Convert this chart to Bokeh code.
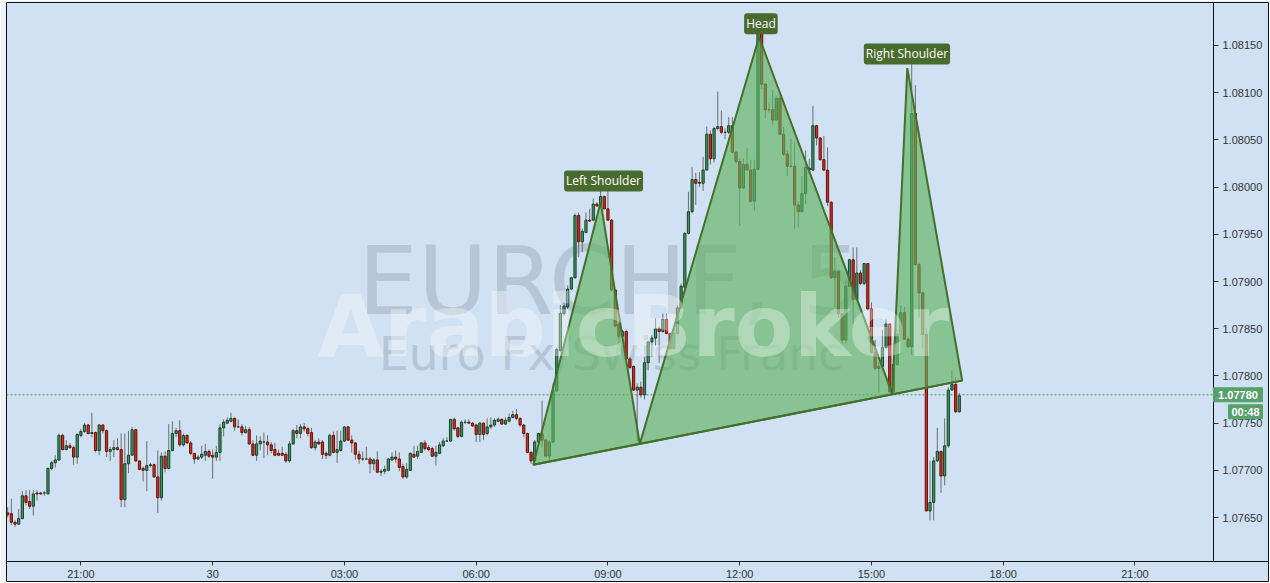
import numpy as np
from bokeh.plotting import figure
from bokeh.models import FixedTicker, Label, Range1d, PrintfTickFormatter, ColumnDataSource
from bokeh.embed import file_html
from bokeh.resources import INLINE
from bokeh.core.properties import value

# ---------------- data (EURCHF, M5) ----------------
start_hour = 19 + 20 / 60.0   # first candle 19:20 on the 29th
bar_minutes = 5

opens = [1.07655,1.07654,1.07645,1.07643,1.07649,1.07673,1.07667,1.07662,1.07676,1.07676,
1.07676,1.07675,1.07702,1.07708,1.07711,1.07737,1.07722,1.07726,1.07724,1.07714,
1.07737,1.07741,1.07748,1.07739,1.07740,1.07721,1.07748,1.07742,1.07720,1.07722,
1.07724,1.07722,1.07669,1.07707,1.07716,1.07743,1.07710,1.07702,1.07700,1.07705,
1.07706,1.07693,1.07671,1.07715,1.07702,1.07721,1.07739,1.07742,1.07727,1.07737,
1.07729,1.07718,1.07712,1.07714,1.07716,1.07720,1.07716,1.07714,1.07719,1.07745,
1.07750,1.07752,1.07755,1.07746,1.07746,1.07740,1.07743,1.07728,1.07716,1.07728,
1.07730,1.07730,1.07727,1.07722,1.07718,1.07718,1.07717,1.07710,1.07728,1.07742,
1.07739,1.07746,1.07744,1.07740,1.07724,1.07730,1.07730,1.07718,1.07716,1.07737,
1.07719,1.07721,1.07731,1.07746,1.07732,1.07729,1.07717,1.07712,1.07712,1.07712,
1.07707,1.07711,1.07698,1.07699,1.07700,1.07711,1.07714,1.07712,1.07704,1.07693,
1.07700,1.07717,1.07715,1.07719,1.07729,1.07724,1.07723,1.07715,1.07718,1.07726,
1.07731,1.07731,1.07754,1.07745,1.07736,1.07751,1.07751,1.07750,1.07748,1.07738,
1.07750,1.07739,1.07746,1.07748,1.07752,1.07754,1.07749,1.07752,1.07756,1.07759,
1.07755,1.07748,1.07739,1.07719,1.07710,1.07730,1.07739,1.07732,1.07715,1.07730,
1.07784,1.07827,1.07866,1.07873,1.07892,1.07904,1.07970,1.07942,1.07952,1.07965,
1.07965,1.07982,1.07980,1.07990,1.07977,1.07965,1.07891,1.07855,1.07842,1.07847,
1.07818,1.07810,1.07785,1.07788,1.07780,1.07814,1.07836,1.07840,1.07850,1.07847,
1.07860,1.07845,1.07829,1.07845,1.07872,1.07894,1.07951,1.07974,1.08008,1.08004,
1.08004,1.08018,1.08056,1.08030,1.08062,1.08064,1.08058,1.08058,1.08065,1.08037,
1.08027,1.07999,1.08024,1.08018,1.07985,1.08019,1.08163,1.08109,1.08082,1.08082,
1.08071,1.08094,1.08056,1.08035,1.08022,1.08022,1.07981,1.07974,1.07993,1.08020,
1.08018,1.08065,1.08052,1.08029,1.08018,1.07984,1.07904,1.07911,1.07866,1.07838,
1.07895,1.07923,1.07881,1.07909,1.07898,1.07919,1.07871,1.07825,1.07810,1.07810,
1.07830,1.07855,1.07783,1.07812,1.07843,1.07867,1.07839,1.07831,1.08078,1.07918,
1.07888,1.07844,1.07657,1.07666,1.07710,1.07720,1.07694,1.07726,1.07785,1.07791,
1.07762]

highs = [1.07661,1.07670,1.07647,1.07659,1.07678,1.07679,1.07679,1.07679,1.07679,1.07677,
1.07678,1.07703,1.07710,1.07716,1.07739,1.07739,1.07732,1.07729,1.07726,1.07739,
1.07744,1.07750,1.07749,1.07761,1.07741,1.07749,1.07749,1.07743,1.07725,1.07732,
1.07734,1.07739,1.07739,1.07742,1.07746,1.07744,1.07710,1.07704,1.07731,1.07708,
1.07707,1.07721,1.07719,1.07720,1.07749,1.07752,1.07745,1.07753,1.07739,1.07738,
1.07731,1.07718,1.07716,1.07726,1.07728,1.07722,1.07722,1.07726,1.07749,1.07754,
1.07756,1.07761,1.07756,1.07754,1.07749,1.07747,1.07746,1.07732,1.07737,1.07736,
1.07740,1.07737,1.07730,1.07729,1.07722,1.07725,1.07719,1.07731,1.07744,1.07748,
1.07749,1.07750,1.07746,1.07745,1.07732,1.07734,1.07732,1.07720,1.07739,1.07741,
1.07742,1.07742,1.07747,1.07747,1.07737,1.07730,1.07721,1.07720,1.07725,1.07714,
1.07713,1.07720,1.07701,1.07705,1.07713,1.07719,1.07721,1.07719,1.07707,1.07708,
1.07719,1.07726,1.07726,1.07730,1.07732,1.07727,1.07725,1.07726,1.07730,1.07734,
1.07735,1.07754,1.07756,1.07746,1.07753,1.07754,1.07754,1.07751,1.07749,1.07751,
1.07751,1.07755,1.07756,1.07755,1.07756,1.07755,1.07756,1.07760,1.07763,1.07765,
1.07756,1.07749,1.07740,1.07720,1.07732,1.07740,1.07774,1.07733,1.07732,1.07792,
1.07830,1.07875,1.07878,1.07896,1.07905,1.07972,1.07973,1.07956,1.07973,1.07977,
1.07988,1.07984,1.07998,1.07991,1.08004,1.07966,1.07892,1.07855,1.07849,1.07849,
1.07820,1.07811,1.07792,1.07794,1.07820,1.07837,1.07843,1.07861,1.07852,1.07866,
1.07866,1.07846,1.07852,1.07875,1.07898,1.07952,1.07995,1.08021,1.08015,1.08016,
1.08032,1.08064,1.08060,1.08064,1.08101,1.08081,1.08062,1.08074,1.08074,1.08038,
1.08030,1.08030,1.08041,1.08029,1.08029,1.08164,1.08164,1.08110,1.08090,1.08103,
1.08097,1.08097,1.08064,1.08039,1.08051,1.08048,1.07985,1.08012,1.08039,1.08030,
1.08086,1.08066,1.08053,1.08054,1.08042,1.07985,1.07926,1.07912,1.07867,1.07901,
1.07924,1.07936,1.07936,1.07912,1.07919,1.07919,1.07878,1.07838,1.07815,1.07849,
1.07860,1.07856,1.07834,1.07850,1.07875,1.07873,1.07841,1.08136,1.08108,1.07920,
1.07889,1.07851,1.07710,1.07714,1.07745,1.07721,1.07755,1.07788,1.07806,1.07799,
1.07782]

lows = [1.07650,1.07642,1.07640,1.07642,1.07648,1.07663,1.07659,1.07652,1.07668,1.07674,
1.07673,1.07675,1.07700,1.07703,1.07710,1.07721,1.07721,1.07723,1.07706,1.07707,
1.07735,1.07740,1.07738,1.07735,1.07719,1.07716,1.07739,1.07714,1.07710,1.07714,
1.07721,1.07661,1.07661,1.07697,1.07716,1.07709,1.07700,1.07688,1.07678,1.07703,
1.07692,1.07655,1.07668,1.07698,1.07701,1.07720,1.07735,1.07725,1.07725,1.07728,
1.07716,1.07707,1.07711,1.07712,1.07710,1.07713,1.07691,1.07710,1.07710,1.07736,
1.07749,1.07751,1.07742,1.07745,1.07737,1.07739,1.07727,1.07715,1.07710,1.07721,
1.07713,1.07716,1.07718,1.07715,1.07715,1.07715,1.07708,1.07708,1.07727,1.07734,
1.07734,1.07741,1.07736,1.07723,1.07721,1.07727,1.07712,1.07712,1.07715,1.07718,
1.07708,1.07720,1.07730,1.07731,1.07719,1.07711,1.07707,1.07710,1.07711,1.07697,
1.07700,1.07697,1.07694,1.07696,1.07699,1.07710,1.07708,1.07699,1.07691,1.07691,
1.07700,1.07713,1.07712,1.07718,1.07721,1.07720,1.07714,1.07705,1.07717,1.07725,
1.07730,1.07730,1.07742,1.07734,1.07735,1.07749,1.07749,1.07746,1.07730,1.07730,
1.07732,1.07737,1.07744,1.07746,1.07751,1.07748,1.07748,1.07751,1.07755,1.07753,
1.07746,1.07735,1.07718,1.07707,1.07709,1.07729,1.07725,1.07715,1.07710,1.07729,
1.07783,1.07825,1.07864,1.07871,1.07891,1.07903,1.07926,1.07931,1.07951,1.07963,
1.07964,1.07979,1.07979,1.07976,1.07965,1.07890,1.07852,1.07832,1.07841,1.07817,
1.07808,1.07784,1.07731,1.07777,1.07775,1.07806,1.07820,1.07832,1.07814,1.07846,
1.07844,1.07827,1.07828,1.07844,1.07871,1.07892,1.07950,1.07972,1.07981,1.08000,
1.07996,1.08018,1.08024,1.08026,1.08060,1.08056,1.08051,1.08056,1.08036,1.08025,
1.07959,1.07998,1.08018,1.07984,1.07975,1.08018,1.08104,1.08073,1.08079,1.08066,
1.08071,1.08055,1.08033,1.08012,1.08021,1.07956,1.07957,1.07974,1.07982,1.08014,
1.08017,1.08044,1.08028,1.08017,1.07980,1.07903,1.07873,1.07862,1.07834,1.07834,
1.07894,1.07855,1.07880,1.07896,1.07896,1.07869,1.07824,1.07806,1.07782,1.07809,
1.07829,1.07782,1.07781,1.07811,1.07842,1.07838,1.07829,1.07822,1.07917,1.07862,
1.07829,1.07657,1.07647,1.07647,1.07709,1.07676,1.07684,1.07724,1.07785,1.07761,
1.07761]

closes = [1.07653,1.07645,1.07643,1.07649,1.07673,1.07666,1.07662,1.07675,1.07675,1.07675,
1.07676,1.07702,1.07708,1.07711,1.07737,1.07722,1.07726,1.07724,1.07714,1.07738,
1.07741,1.07748,1.07739,1.07740,1.07721,1.07748,1.07742,1.07720,1.07722,1.07724,
1.07722,1.07669,1.07707,1.07716,1.07743,1.07710,1.07701,1.07700,1.07705,1.07706,
1.07693,1.07671,1.07715,1.07702,1.07721,1.07739,1.07742,1.07727,1.07737,1.07729,
1.07718,1.07712,1.07714,1.07717,1.07720,1.07715,1.07714,1.07719,1.07745,1.07751,
1.07753,1.07755,1.07746,1.07746,1.07740,1.07743,1.07728,1.07716,1.07728,1.07731,
1.07730,1.07727,1.07721,1.07716,1.07716,1.07716,1.07710,1.07728,1.07742,1.07739,
1.07746,1.07744,1.07739,1.07724,1.07730,1.07728,1.07717,1.07716,1.07737,1.07719,
1.07722,1.07731,1.07746,1.07732,1.07729,1.07717,1.07712,1.07712,1.07712,1.07707,
1.07711,1.07698,1.07699,1.07701,1.07712,1.07714,1.07712,1.07703,1.07693,1.07701,
1.07718,1.07714,1.07720,1.07729,1.07723,1.07722,1.07715,1.07719,1.07727,1.07731,
1.07731,1.07754,1.07744,1.07736,1.07751,1.07751,1.07750,1.07747,1.07738,1.07750,
1.07738,1.07746,1.07748,1.07753,1.07754,1.07749,1.07753,1.07756,1.07759,1.07755,
1.07748,1.07739,1.07719,1.07710,1.07730,1.07739,1.07732,1.07715,1.07730,1.07784,
1.07828,1.07866,1.07874,1.07892,1.07904,1.07970,1.07942,1.07953,1.07965,1.07964,
1.07982,1.07980,1.07990,1.07977,1.07965,1.07891,1.07853,1.07842,1.07847,1.07818,
1.07809,1.07785,1.07788,1.07780,1.07814,1.07836,1.07840,1.07850,1.07847,1.07860,
1.07845,1.07829,1.07845,1.07872,1.07895,1.07951,1.07974,1.08008,1.08004,1.08005,
1.08018,1.08056,1.08030,1.08062,1.08064,1.08058,1.08058,1.08065,1.08037,1.08027,
1.07999,1.08024,1.08018,1.07985,1.08019,1.08163,1.08109,1.08082,1.08082,1.08071,
1.08094,1.08056,1.08035,1.08022,1.08022,1.07981,1.07974,1.07993,1.08021,1.08018,
1.08065,1.08052,1.08029,1.08018,1.07984,1.07904,1.07911,1.07866,1.07838,1.07895,
1.07923,1.07881,1.07909,1.07898,1.07919,1.07871,1.07825,1.07808,1.07808,1.07830,
1.07855,1.07783,1.07812,1.07844,1.07867,1.07839,1.07831,1.08078,1.07918,1.07888,
1.07844,1.07657,1.07666,1.07710,1.07720,1.07694,1.07726,1.07785,1.07791,1.07762,
1.07779]

# head & shoulders pattern vertices: bar index (fractional) and price
pattern_bar = [143.6, 162.0, 172.7, 205.3, 241.7, 245.8, 260.8]
pattern_price = [1.07706, 1.07984, 1.07728, 1.08159, 1.07781, 1.08126, 1.07795]

pattern_labels = ["Left Shoulder", "Head", "Right Shoulder"]
pattern_label_bar = [162.8, 205.8, 245.7]
pattern_label_price = [1.080065, 1.08173, 1.08141]

last_price = 1.07780
last_price_text = "1.07780"
timer_text = "00:48"

y_ticks = [1.0765, 1.0770, 1.0775, 1.0780, 1.0785, 1.0790, 1.0795, 1.0800, 1.0805, 1.0810, 1.0815]
x_ticks = [21, 24, 27, 30, 33, 36, 39, 42, 45]
x_tick_labels = ["21:00", "30", "03:00", "06:00", "09:00", "12:00", "15:00", "18:00", "21:00"]

# view: candle area ends at price-scale time, price area ends at time-scale price
x_view = (19.306, 48.063)
y_view = (1.075812, 1.081955)
price_scale_at = 46.788      # x (hours) where the price scale sits
time_scale_at = 1.076034     # y (price) where the time scale sits

# ---------------- derived ----------------
n = len(opens)
t = np.array([start_hour + i * bar_minutes / 60.0 for i in range(n)])
o = np.array(opens); c = np.array(closes)
up = c >= o
body_top = np.maximum(o, c)
body_bot = np.minimum(o, c)

PAGE_BG = "#eef2f6"
BG = "#cfe1f2"
GREEN_FILL = "#3b9a64"
GREEN_LINE = "#1c3f2a"
RED_FILL = "#d4301e"
RED_LINE = "#651208"
WICK = "#6e6e6e"
TAG = "#56a06a"

W, H = 1269, 582
p = figure(width=W, height=H, output_backend="svg", toolbar_location=None,
           x_range=Range1d(*x_view), y_range=Range1d(*y_view),
           y_axis_location="right", min_border_left=6, min_border_top=2,
           min_border_right=0, min_border_bottom=0,
           background_fill_color=BG, border_fill_color=PAGE_BG)
p.outline_line_color = "#111111"
p.outline_line_width = 1
p.grid.grid_line_color = None

# pixel sizes (for tags and candle widths)
px_x = (x_view[1] - x_view[0]) / (W - 6)
px_y = (y_view[1] - y_view[0]) / (H - 2)

# watermark (behind)
p.add_layout(Label(x=33.05, y=1.07901, text="EURCHF, 5", text_align="center",
                   text_baseline="alphabetic", text_font="DejaVu Sans",
                   text_font_size="95px", text_color="#a9b9c9", text_alpha=0.68,
                   level="underlay"))
p.add_layout(Label(x=33.08, y=1.07824, text="Euro Fx/Swiss Franc", text_align="center",
                   text_baseline="alphabetic", text_font="DejaVu Sans",
                   text_font_size="47px", text_color="#a9b9c9", text_alpha=0.68,
                   level="underlay"))

# last price dotted line
p.line([x_view[0], price_scale_at], [last_price, last_price], line_color="#3f9a55",
       line_dash="2 2", line_width=1, level="underlay")

# candles
p.segment(x0=t, y0=lows, x1=t, y1=highs, line_color=WICK, line_width=1)
src_up = ColumnDataSource(dict(x=t[up], top=body_top[up], bottom=body_bot[up]))
src_dn = ColumnDataSource(dict(x=t[~up], top=body_top[~up], bottom=body_bot[~up]))
bw = 2.2 * px_x
p.vbar(x="x", top="top", bottom="bottom", width=bw, source=src_up,
       fill_color=GREEN_FILL, line_color=GREEN_LINE, line_width=1)
p.vbar(x="x", top="top", bottom="bottom", width=bw, source=src_dn,
       fill_color=RED_FILL, line_color=RED_LINE, line_width=1)

# pattern polygon
px = [start_hour + b * bar_minutes / 60.0 for b in pattern_bar]
p.patch(px, pattern_price, fill_color="#5fb35f", fill_alpha=0.64,
        line_color="#44702a", line_width=2)
p.line([px[0], px[-1]], [pattern_price[0], pattern_price[-1]],
       line_color="#44702a", line_width=2)

# brand watermark on top
p.add_layout(Label(x=33.58, y=1.07853, text="ArabicBroker", text_align="center",
                   text_baseline="alphabetic", text_font="DejaVu Sans",
                   text_font_style="bold", text_font_size="86px",
                   text_color="#ffffff", text_alpha=0.35))

for txt, b, pr in zip(pattern_labels, pattern_label_bar, pattern_label_price):
    p.add_layout(Label(x=start_hour + b * bar_minutes / 60.0, y=pr, text=txt,
                       text_align="center", text_baseline="middle",
                       text_font="Open Sans", text_font_size="12px",
                       text_color="#ffffff", background_fill_color="#4a6b2e",
                       padding=2, border_radius=3))

# axes drawn at fixed positions inside the frame
yax = p.yaxis[0]
yax.fixed_location = price_scale_at
yax.bounds = (time_scale_at, y_view[1])
yax.ticker = FixedTicker(ticks=y_ticks)
yax.formatter = PrintfTickFormatter(format="%.5f")
yax.major_label_text_font = "Liberation Sans"
yax.major_label_text_font_size = "11px"
yax.major_label_text_color = "#333333"
yax.major_tick_out = 5
yax.major_tick_in = 0
yax.minor_tick_out = 0
yax.minor_tick_in = 0
yax.major_label_standoff = 4
yax.axis_line_color = "#111111"
yax.major_tick_line_color = "#333333"

xax = p.xaxis[0]
xax.fixed_location = time_scale_at
xax.ticker = FixedTicker(ticks=x_ticks)
xax.major_label_overrides = {tk: lb for tk, lb in zip(x_ticks, x_tick_labels)}
xax.major_label_text_font = "Liberation Sans"
xax.major_label_text_font_size = "11px"
xax.major_label_text_color = "#333333"
xax.major_tick_out = 4
xax.major_tick_in = 0
xax.minor_tick_out = 0
xax.minor_tick_in = 0
xax.major_label_standoff = 2
xax.axis_line_color = "#111111"
xax.major_tick_line_color = "#333333"

# last price / timer tags on the price scale
tag_right = price_scale_at + 49 * px_x
p.quad(left=[price_scale_at, price_scale_at + 15 * px_x], right=[tag_right, tag_right],
       top=[last_price + 7 * px_y, last_price - 10 * px_y],
       bottom=[last_price - 7 * px_y, last_price - 24 * px_y],
       fill_color=TAG, line_color=TAG, level="overlay")
p.text(x=[(price_scale_at + tag_right) / 2, (price_scale_at + 15 * px_x + tag_right) / 2],
       y=[last_price, last_price - 17 * px_y], text=[last_price_text, timer_text],
       text_align="center", text_baseline="middle", text_font=value("Liberation Sans"),
       text_font_size="11px", text_font_style="bold", text_color="#ffffff", level="overlay")

open("out.html", "w").write(file_html(p, INLINE))
